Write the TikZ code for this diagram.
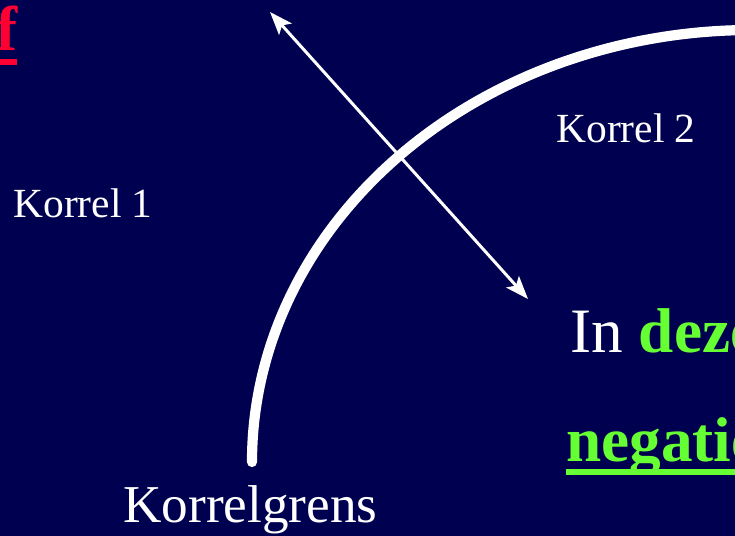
\documentclass[tikz,border=0pt]{standalone}
\usepackage{fontspec}
\setmainfont{Liberation Serif}
\usetikzlibrary{arrows.meta, calc}

\definecolor{slidebg}{HTML}{000050}
\definecolor{hotred}{HTML}{FF0033}
\definecolor{limegreen}{HTML}{66FF33}

\begin{document}
\begin{tikzpicture}[
  x=0.02cm, y=-0.02cm,
  lbl/.style   ={text=white, inner sep=0pt, font=\fontsize{23.6}{28}\selectfont},
  grenslbl/.style={text=white, inner sep=0pt, font=\fontsize{30.3}{36}\selectfont},
  big/.style   ={inner sep=0pt, font=\fontsize{36}{42}\selectfont},
  arr/.style   ={{Stealth[length=0.46cm, width=0.34cm, inset=0.1cm]}-{Stealth[length=0.46cm, width=0.34cm, inset=0.1cm]},
                 white, line width=1.7pt},
  grens/.style ={white, line width=5.8pt, line cap=round},
]

%% ---- Background ----
\useasboundingbox (0,0) rectangle (735,536);
\clip (0,0) rectangle (735,536);
\fill[slidebg] (0,0) rectangle (735,536);

%% ---- Grain boundary ----
\draw[grens] (252,462) arc[start angle=180, end angle=275, x radius=500, y radius=432];

%% ---- Double arrow across the boundary ----
\coordinate (top) at (270,12);
\coordinate (bot) at (528,299);
\draw[arr] (top) -- (bot);

%% ---- Labels ----
\node[lbl, anchor=base west] (k1) at (13,218) {Korrel 1};
\node[lbl, anchor=base west] (k2) at (556,143) {Korrel 2};
\node[grenslbl, anchor=base west] (kg) at (123,523) {Korrelgrens};

%% ---- Cut-off slide text ----
\node[big, text=hotred, font=\fontsize{36}{42}\selectfont\bfseries, anchor=base east] (f) at (18,51) {f};
\fill[hotred] (0,59) rectangle (17,65);

\node[big, anchor=base west] (indeze) at (570,353)
  {\textcolor{white}{In} \textcolor{limegreen}{\bfseries deze}};
\node[big, text=limegreen, font=\fontsize{36}{42}\selectfont\bfseries, anchor=base west] (neg) at (566,462) {negatie};
\fill[limegreen] ($(neg.base west)+(0,7)$) rectangle ($(neg.base east)+(0,13)$);

\end{tikzpicture}
\end{document}
